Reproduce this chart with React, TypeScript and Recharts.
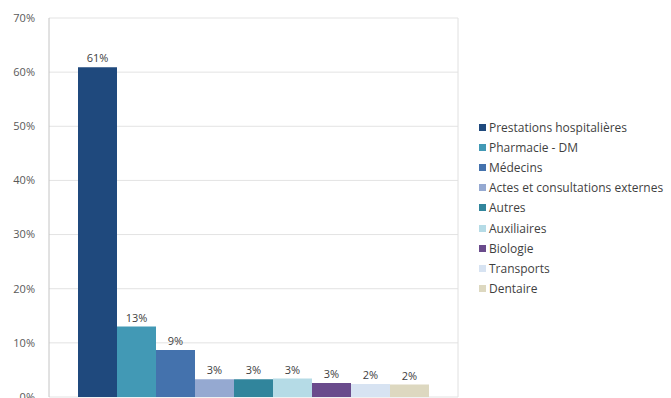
import React from 'react';
import { BarChart, Bar, XAxis, YAxis, CartesianGrid, Legend, LabelList } from 'recharts';

// Répartition des dépenses par poste (en % du total)
const categories = [
  'Prestations hospitalières',
  'Pharmacie - DM',
  'Médecins',
  'Actes et consultations externes',
  'Autres',
  'Auxiliaires',
  'Biologie',
  'Transports',
  'Dentaire',
];
const shares = [60.9, 13.0, 8.7, 3.3, 3.3, 3.4, 2.6, 2.4, 2.3];
const colors = [
  '#1f497d',
  '#4299b5',
  '#4472ad',
  '#95a9d1',
  '#31859c',
  '#b5dbe6',
  '#6a4b8c',
  '#d7e3f2',
  '#ddd8c0',
];
const yTicks = [0, 10, 20, 30, 40, 50, 60, 70];

const keys = categories.map((_, i) => `s${i}`);
const row: Record<string, number | string> = { name: 'Total' };
keys.forEach((k, i) => {
  row[k] = shares[i];
});
const data = [row];

const pct = (v: unknown) => `${Math.round(Number(v))}%`;

const LegendList = (props: any) => {
  const items = [...(props.payload || [])].sort(
    (a: any, b: any) => categories.indexOf(a.value) - categories.indexOf(b.value)
  );
  return (
    <ul style={{ listStyle: 'none', margin: 0, padding: 0 }}>
      {items.map((it: any) => (
        <li
          key={it.value}
          style={{
            height: 20.2,
            display: 'flex',
            alignItems: 'center',
            fontFamily: '"Open Sans", sans-serif',
            fontSize: 12,
            color: '#3f3f3f',
            whiteSpace: 'nowrap',
          }}
        >
          <span
            style={{
              display: 'inline-block',
              width: 7,
              height: 7,
              background: it.color,
              marginRight: 3,
            }}
          />
          {it.value}
        </li>
      ))}
    </ul>
  );
};

export default function App() {
  return (
    <div
      style={{
        position: 'fixed',
        top: 0,
        left: 0,
        width: 671,
        height: 398,
        overflow: 'hidden',
        background: '#ffffff',
      }}
    >
      <BarChart
        width={671}
        height={420}
        data={data}
        margin={{ top: 18, right: 212, bottom: 23, left: 0 }}
        barCategoryGap={29}
        barGap={0}
      >
        <CartesianGrid horizontal vertical={false} stroke="#e3e3e3" />
        <XAxis dataKey="name" height={0} tick={false} tickLine={false} axisLine={{ stroke: '#b8b8b8' }} />
        <YAxis
          domain={[0, 70]}
          ticks={yTicks}
          width={49}
          tickLine={false}
          tickMargin={8}
          axisLine={{ stroke: '#c4c4c4' }}
          tickFormatter={(v: number) => `${v}%`}
          tick={{ fill: '#595959', fontSize: 11, fontFamily: '"Open Sans", sans-serif' }}
        />
        <YAxis
          yAxisId="frame"
          orientation="right"
          domain={[0, 70]}
          width={1}
          tick={false}
          tickLine={false}
          axisLine={{ stroke: '#e0e0e0' }}
        />
        <Legend
          layout="vertical"
          align="center"
          verticalAlign="middle"
          content={<LegendList />}
          wrapperStyle={{ position: 'absolute', left: 479, top: 117, width: 192 }}
        />
        {keys.map((k, i) => (
          <Bar key={k} dataKey={k} name={categories[i]} fill={colors[i]} isAnimationActive={false}>
            <LabelList
              dataKey={k}
              position="top"
              formatter={pct}
              fill="#404040"
              fontSize={11}
              fontFamily='"Open Sans", sans-serif'
            />
          </Bar>
        ))}
      </BarChart>
    </div>
  );
}
